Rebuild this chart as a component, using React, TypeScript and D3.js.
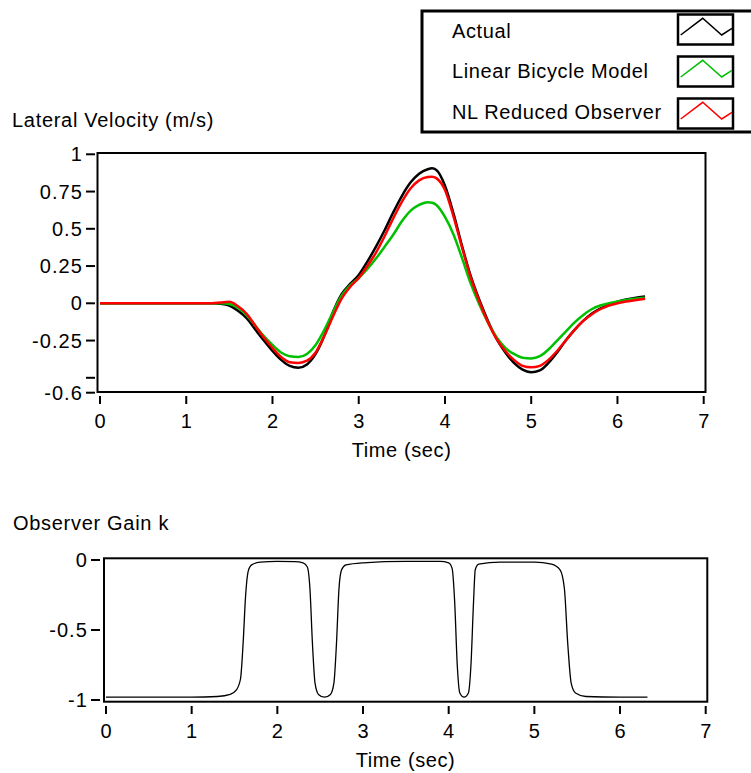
import React from "react";
import * as d3 from "d3";

// ---- Data ----
const timeTop = [0, 0.5, 1.0, 1.3, 1.4, 1.5, 1.6, 1.7, 1.8, 1.9, 2.0, 2.1, 2.2, 2.3, 2.4, 2.5, 2.6, 2.7, 2.8, 2.9, 3.0, 3.1, 3.2, 3.3, 3.4, 3.5, 3.6, 3.7, 3.8, 3.85, 3.9, 4.0, 4.1, 4.2, 4.3, 4.4, 4.5, 4.6, 4.7, 4.8, 4.9, 5.0, 5.1, 5.2, 5.3, 5.4, 5.5, 5.6, 5.7, 5.8, 5.9, 6.0, 6.1, 6.2, 6.32];
const actual = [0, 0, 0, 0, -0.003, -0.015, -0.05, -0.1, -0.175, -0.25, -0.32, -0.38, -0.42, -0.432, -0.41, -0.34, -0.22, -0.06, 0.06, 0.13, 0.19, 0.28, 0.38, 0.49, 0.61, 0.72, 0.81, 0.87, 0.9, 0.906, 0.895, 0.79, 0.6, 0.38, 0.18, 0.02, -0.12, -0.24, -0.33, -0.4, -0.445, -0.462, -0.45, -0.4, -0.33, -0.25, -0.18, -0.12, -0.07, -0.035, -0.01, 0.01, 0.025, 0.035, 0.045];
const linearBicycle = [0, 0, 0, 0, 0, -0.005, -0.03, -0.08, -0.15, -0.22, -0.28, -0.33, -0.355, -0.36, -0.34, -0.28, -0.18, -0.06, 0.05, 0.12, 0.17, 0.23, 0.3, 0.38, 0.46, 0.55, 0.62, 0.66, 0.678, 0.675, 0.66, 0.58, 0.46, 0.3, 0.13, -0.01, -0.13, -0.23, -0.3, -0.34, -0.365, -0.37, -0.355, -0.31, -0.25, -0.19, -0.13, -0.08, -0.04, -0.015, 0.0, 0.012, 0.022, 0.03, 0.037];
const nlReduced = [0, 0, 0, 0, 0.005, 0.01, -0.02, -0.07, -0.15, -0.23, -0.3, -0.36, -0.395, -0.4, -0.385, -0.33, -0.22, -0.09, 0.03, 0.11, 0.17, 0.25, 0.34, 0.45, 0.57, 0.68, 0.77, 0.825, 0.848, 0.85, 0.84, 0.76, 0.58, 0.37, 0.17, 0.01, -0.13, -0.24, -0.32, -0.38, -0.42, -0.43, -0.42, -0.38, -0.32, -0.25, -0.18, -0.12, -0.075, -0.04, -0.015, 0.0, 0.012, 0.02, 0.03];

const timeGain = [0, 0.5, 1.0, 1.3, 1.45, 1.52, 1.57, 1.6, 1.63, 1.66, 1.7, 1.8, 2.0, 2.2, 2.3, 2.35, 2.38, 2.41, 2.44, 2.48, 2.55, 2.62, 2.66, 2.69, 2.72, 2.75, 2.8, 3.0, 3.5, 3.9, 4.0, 4.04, 4.07, 4.1, 4.13, 4.18, 4.23, 4.26, 4.29, 4.31, 4.35, 4.6, 5.0, 5.2, 5.3, 5.35, 5.39, 5.43, 5.48, 5.6, 6.0, 6.32];
const gainK = [-0.98, -0.98, -0.98, -0.975, -0.96, -0.93, -0.85, -0.6, -0.25, -0.08, -0.035, -0.015, -0.01, -0.012, -0.02, -0.05, -0.2, -0.6, -0.88, -0.96, -0.98, -0.96, -0.88, -0.6, -0.2, -0.07, -0.035, -0.02, -0.01, -0.01, -0.02, -0.06, -0.3, -0.75, -0.95, -0.98, -0.95, -0.75, -0.3, -0.07, -0.03, -0.015, -0.015, -0.03, -0.07, -0.2, -0.6, -0.88, -0.95, -0.975, -0.98, -0.98];

const xTicks = [0, 1, 2, 3, 4, 5, 6, 7];
const yTicksTop = [1, 0.75, 0.5, 0.25, 0, -0.25, -0.5, -0.6];
const yTickLabelsTop = ["1", "0.75", "0.5", "0.25", "0", "-0.25", "", "-0.6"];
const yTicksBot = [0, -0.5, -1];
const yTickLabelsBot = ["0", "-0.5", "-1"];

const legendNames = ["Actual", "Linear Bicycle Model", "NL Reduced Observer"];
const legendColors = ["#000000", "#00c000", "#ff0000"];

const FONT = "'Liberation Sans', Arial, sans-serif";

export default function App() {
  const xTop = d3.scaleLinear().domain([0, 7]).range([100, 703.7]);
  const yTop = d3.scaleLinear().domain([-0.6, 1]).range([392.7, 154.3]);
  const xBot = d3.scaleLinear().domain([0, 7]).range([106, 705.7]);
  const yBot = d3.scaleLinear().domain([-1, 0]).range([700, 560]);

  const lineTop = (vals: number[]) =>
    d3
      .line<number>()
      .x((_, i) => xTop(timeTop[i]))
      .y((v) => yTop(v))
      .curve(d3.curveMonotoneX)(vals) || "";

  const lineGain =
    d3
      .line<number>()
      .x((_, i) => xBot(timeGain[i]))
      .y((v) => yBot(v))
      .curve(d3.curveMonotoneX)(gainK) || "";

  const series = [actual, linearBicycle, nlReduced];

  return (
    <svg
      width={751}
      height={773}
      style={{ position: "absolute", left: 0, top: 0, background: "#fff" }}
      fontFamily={FONT}
    >
      <rect x={0} y={0} width={751} height={773} fill="#fff" />

      {/* Legend */}
      <rect x={422} y={11} width={340} height={121} fill="#fff" stroke="#000" strokeWidth={3} />
      {legendNames.map((name, i) => {
        const by = 14.5 + i * 42;
        return (
          <g key={name}>
            <text x={452} y={37.7 + i * 40.7} fontSize={20} letterSpacing={0.6} fill="#000">
              {name}
            </text>
            <rect x={678} y={by} width={55} height={30} fill="#fff" stroke="#000" strokeWidth={2.5} />
            <polyline
              points={`${678 + 2.7},${by + 20.5} ${678 + 24.7},${by + 3.8} ${678 + 43.7},${by + 20.5} ${678 + 54},${by + 13.8}`}
              fill="none"
              stroke={legendColors[i]}
              strokeWidth={1.5}
            />
          </g>
        );
      })}

      {/* Top plot */}
      <text x={12} y={126.7} fontSize={20} letterSpacing={0.7}>Lateral Velocity (m/s)</text>
      <rect x={97.5} y={153} width={608} height={239} fill="none" stroke="#000" strokeWidth={2} />
      {yTicksTop.map((t, i) => (
        <g key={"yt" + i}>
          <line x1={86} x2={95} y1={yTop(t)} y2={yTop(t)} stroke="#000" strokeWidth={2} />
          <text x={83} y={yTop(t) + 7} textAnchor="end" fontSize={20} letterSpacing={1.1}>
            {yTickLabelsTop[i]}
          </text>
        </g>
      ))}
      {xTicks.map((t) => (
        <g key={"xt" + t}>
          <line x1={xTop(t)} x2={xTop(t)} y1={396} y2={404} stroke="#000" strokeWidth={2} />
          <text x={xTop(t)} y={428} textAnchor="middle" fontSize={20}>{t}</text>
        </g>
      ))}
      <text x={401.6} y={457} textAnchor="middle" fontSize={20} letterSpacing={0.6}>Time (sec)</text>
      {series.map((s, i) => (
        <path key={"s" + i} d={lineTop(s)} fill="none" stroke={legendColors[i]} strokeWidth={2.5} />
      ))}

      {/* Bottom plot */}
      <text x={13} y={530} fontSize={20} letterSpacing={0.7}>Observer Gain k</text>
      <rect x={104} y={558.3} width={603.3} height={143.4} fill="none" stroke="#000" strokeWidth={2} />
      {yTicksBot.map((t, i) => (
        <g key={"yb" + i}>
          <line x1={91} x2={100} y1={yBot(t)} y2={yBot(t)} stroke="#000" strokeWidth={2} />
          <text x={88} y={yBot(t) + 7} textAnchor="end" fontSize={20} letterSpacing={1.1}>
            {yTickLabelsBot[i]}
          </text>
        </g>
      ))}
      {xTicks.map((t) => (
        <g key={"xb" + t}>
          <line x1={xBot(t)} x2={xBot(t)} y1={706} y2={714} stroke="#000" strokeWidth={2} />
          <text x={xBot(t)} y={738} textAnchor="middle" fontSize={20}>{t}</text>
        </g>
      ))}
      <text x={405.5} y={767} textAnchor="middle" fontSize={20} letterSpacing={0.6}>Time (sec)</text>
      <path d={lineGain} fill="none" stroke="#000" strokeWidth={1.3} />
    </svg>
  );
}
